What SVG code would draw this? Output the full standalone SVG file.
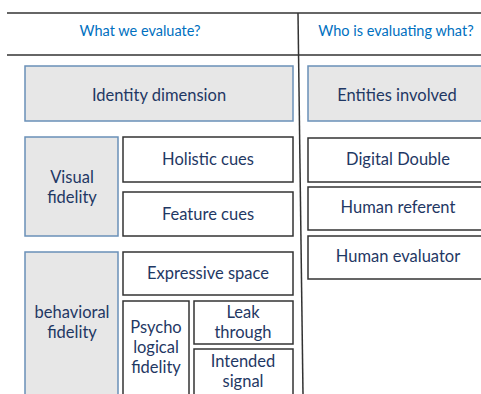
<svg xmlns="http://www.w3.org/2000/svg" width="481" height="394" viewBox="0 0 481 394">
<style>
text{font-family:Lato,"Open Sans","Liberation Sans",sans-serif;font-size:16.5px;fill:#1F3864;text-anchor:middle}
.h{fill:#0070C0;font-size:14.5px}
.g{fill:#E7E7E7;stroke:#6A90B8;stroke-width:1.5}
.w{fill:#FFFFFF;stroke:#333333;stroke-width:1.5}
.ln{stroke:#333333;stroke-width:1.5;fill:none}
</style>
<rect width="481" height="394" fill="#FFFFFF"/>
<g id="connectors">
<line class="ln" x1="7" y1="13" x2="481" y2="13"/>
<line class="ln" x1="7" y1="55" x2="481" y2="55"/>
<line class="ln" x1="298" y1="13" x2="303" y2="394"/>
</g>
<g id="hdr1"><text class="h" x="140" y="36">What we evaluate?</text></g>
<g id="hdr2"><text class="h" x="396" y="36">Who is evaluating what?</text></g>
<g id="identity"><rect class="g" x="25" y="66" width="268" height="55"/><text x="159" y="101">Identity  dimension</text></g>
<g id="entities"><rect class="g" x="308" y="66" width="180" height="55"/><text x="397" y="101">Entities involved</text></g>
<g id="visual"><rect class="g" x="25" y="137" width="93" height="99"/><text x="72" y="183">Visual</text><text x="72" y="203">fidelity</text></g>
<g id="holistic"><rect class="w" x="123" y="137" width="170" height="45"/><text x="208" y="165">Holistic cues</text></g>
<g id="feature"><rect class="w" x="123" y="192" width="170" height="44"/><text x="208" y="220">Feature cues</text></g>
<g id="behavioral"><rect class="g" x="25" y="252" width="93" height="150"/><text x="72" y="318">behavioral</text><text x="72" y="338">fidelity</text></g>
<g id="expressive"><rect class="w" x="123" y="252" width="170" height="43"/><text x="208" y="279">Expressive space</text></g>
<g id="psycho"><rect class="w" x="123" y="301" width="66" height="100"/><text x="156" y="333">Psycho</text><text x="156" y="353">logical</text><text x="156" y="373">fidelity</text></g>
<g id="leak"><rect class="w" x="194" y="301" width="99" height="43"/><text x="243" y="318">Leak</text><text x="243" y="338">through</text></g>
<g id="intended"><rect class="w" x="194" y="349" width="99" height="52"/><text x="243" y="367">Intended</text><text x="243" y="387">signal</text></g>
<g id="digital"><rect class="w" x="308" y="138" width="180" height="44"/><text x="398" y="165">Digital Double</text></g>
<g id="referent"><rect class="w" x="308" y="187" width="180" height="43"/><text x="398" y="213">Human referent</text></g>
<g id="evaluator"><rect class="w" x="308" y="236" width="180" height="43"/><text x="398" y="262">Human evaluator</text></g>
</svg>
